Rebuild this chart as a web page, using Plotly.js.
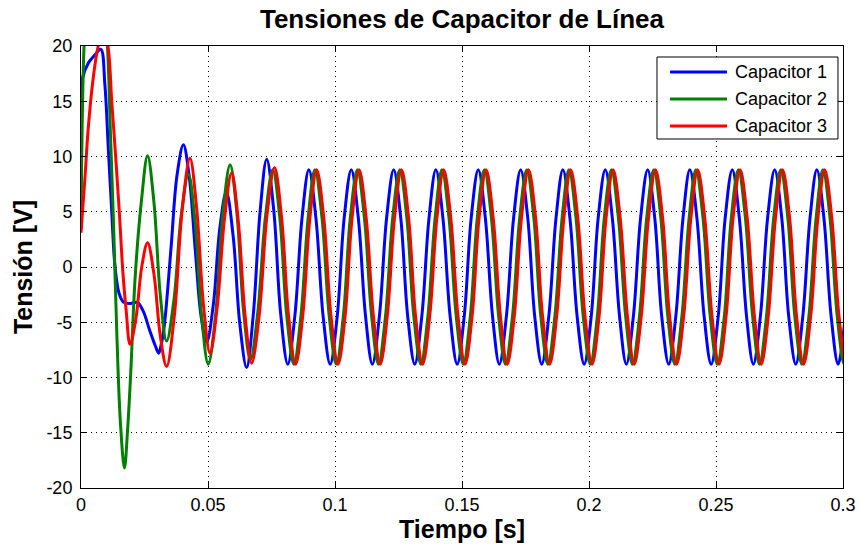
<!DOCTYPE html>
<html><head><meta charset="utf-8">
<script src="https://cdn.plot.ly/plotly-3.0.1.min.js"></script>
<style>html,body{margin:0;padding:0;background:#fff}</style>
</head><body><div id="chart" style="width:860px;height:550px"></div>
<script>
const chartTitle = 'Tensiones de Capacitor de Línea';
const xTitle = 'Tiempo [s]';
const yTitle = 'Tensión [V]';
const seriesNames = ['Capacitor 1', 'Capacitor 2', 'Capacitor 3'];
const seriesColors = ['#0000ff', '#008000', '#ff0000'];
const xTickVals = [0, 0.05, 0.1, 0.15, 0.2, 0.25, 0.3];
const xTickText = ['0', '0.05', '0.1', '0.15', '0.2', '0.25', '0.3'];
const yTickVals = [-20, -15, -10, -5, 0, 5, 10, 15, 20];
const yTickText = ['-20', '-15', '-10', '-5', '0', '5', '10', '15', '20'];

// Transient part
const tBlueStart = [0, 0.0005, 0.0030, 0.0055, 0.0078, 0.0094, 0.0108, 0.0121, 0.0134, 0.0150, 0.0168, 0.0195, 0.0222, 0.0245, 0.0270, 0.0292, 0.0306, 0.0316, 0.0328, 0.0354, 0.0378, 0.0403, 0.0426, 0.0450, 0.0473, 0.0495, 0.0521, 0.0546, 0.0572, 0.0599, 0.0625, 0.0652, 0.0678, 0.0705, 0.0731, 0.0759, 0.0786, 0.0814];
const vBlueStart = [10.5, 17, 18.5, 19.2, 19.7, 16.5, 10.5, 5, 0, -2.4, -3.2, -3.3, -3.2, -4.0, -5.7, -7.1, -7.8, -7.0, -5.3, 1.6, 8.3, 11.06, 8.2, 1.5, -4.5, -6.8, -3.4, 3.4, 6.8, 2.8, -5.1, -9.1, -4.4, 5.0, 9.76, 5.1, -4.2, -8.8];

const tGreenStart = [0, 0.0012, 0.0030, 0.0060, 0.0085, 0.0104, 0.0116, 0.0128, 0.0141, 0.0155, 0.0171, 0.0184, 0.0197, 0.0213, 0.0238, 0.0262, 0.0287, 0.0312, 0.0337, 0.0366, 0.0394, 0.0423, 0.0449, 0.0475, 0.0501, 0.0530, 0.0558, 0.0587, 0.0614, 0.0640, 0.0667, 0.0696, 0.0726, 0.0755, 0.0783, 0.0810, 0.0838];
const vGreenStart = [3.5, 20, 26.5, 28, 25, 20, 12, 4, -6, -14, -18.2, -14.5, -9, -1, 6, 10.06, 5.9, -2.5, -6.7, -2.95, 4.55, 8.4, 4.1, -4.5, -8.8, -4.3, 4.7, 9.25, 4.8, -4.0, -8.4, -4.1, 4.5, 8.8, 4.4, -4.4, -8.8];

const tRedStart = [0, 0.0016, 0.0028, 0.0047, 0.0066, 0.0088, 0.0106, 0.0121, 0.0138, 0.0152, 0.0165, 0.0178, 0.0193, 0.0216, 0.0239, 0.0262, 0.0287, 0.0312, 0.0337, 0.0368, 0.0398, 0.0429, 0.0455, 0.0482, 0.0508, 0.0536, 0.0565, 0.0593, 0.0619, 0.0646, 0.0672, 0.0702, 0.0732, 0.0762, 0.0790, 0.0817, 0.0845];
const vRedStart = [3.1, 8.2, 12.4, 16.9, 19.8, 21.5, 20, 15, 9.5, 4.5, -0.5, -4, -7.0, -4.7, 0, 2.2, -0.6, -6.2, -9.0, -4.3, 5.1, 9.85, 5.4, -3.4, -7.8, -3.7, 4.4, 8.5, 4.2, -4.4, -8.7, -4.25, 4.65, 9.0, 4.4, -4.4, -8.8];

// Steady-state part
const tBlueSteady = [
 0.0842, 0.0870, 0.0897, 0.0925, 0.0953, 0.0981,
 0.1009, 0.1036, 0.1064, 0.1092, 0.1120, 0.1147,
 0.1175, 0.1203, 0.1231, 0.1259, 0.1286, 0.1314,
 0.1342, 0.1370, 0.1397, 0.1425, 0.1453, 0.1481,
 0.1509, 0.1536, 0.1564, 0.1592, 0.1620, 0.1647,
 0.1675, 0.1703, 0.1731, 0.1759, 0.1786, 0.1814,
 0.1842, 0.1870, 0.1897, 0.1925, 0.1953, 0.1981,
 0.2009, 0.2036, 0.2064, 0.2092, 0.2120, 0.2147,
 0.2175, 0.2203, 0.2231, 0.2259, 0.2286, 0.2314,
 0.2342, 0.2370, 0.2397, 0.2425, 0.2453, 0.2481,
 0.2509, 0.2536, 0.2564, 0.2592, 0.2620, 0.2647,
 0.2675, 0.2703, 0.2731, 0.2759, 0.2786, 0.2814,
 0.2842, 0.2870, 0.2897, 0.2925, 0.2953, 0.2981,
 0.3009];
const tGreenSteady = [
 0.0866, 0.0894, 0.0921, 0.0949, 0.0977, 0.1005,
 0.1033, 0.1060, 0.1088, 0.1116, 0.1144, 0.1171,
 0.1199, 0.1227, 0.1255, 0.1283, 0.1310, 0.1338,
 0.1366, 0.1394, 0.1421, 0.1449, 0.1477, 0.1505,
 0.1533, 0.1560, 0.1588, 0.1616, 0.1644, 0.1671,
 0.1699, 0.1727, 0.1755, 0.1783, 0.1810, 0.1838,
 0.1866, 0.1894, 0.1921, 0.1949, 0.1977, 0.2005,
 0.2033, 0.2060, 0.2088, 0.2116, 0.2144, 0.2171,
 0.2199, 0.2227, 0.2255, 0.2283, 0.2310, 0.2338,
 0.2366, 0.2394, 0.2421, 0.2449, 0.2477, 0.2505,
 0.2533, 0.2560, 0.2588, 0.2616, 0.2644, 0.2671,
 0.2699, 0.2727, 0.2755, 0.2783, 0.2810, 0.2838,
 0.2866, 0.2894, 0.2921, 0.2949, 0.2977, 0.3005,
 0.3033];
const tRedSteady = [
 0.0873, 0.0901, 0.0928, 0.0956, 0.0984, 0.1012,
 0.1040, 0.1067, 0.1095, 0.1123, 0.1151, 0.1178,
 0.1206, 0.1234, 0.1262, 0.1290, 0.1317, 0.1345,
 0.1373, 0.1401, 0.1428, 0.1456, 0.1484, 0.1512,
 0.1540, 0.1567, 0.1595, 0.1623, 0.1651, 0.1678,
 0.1706, 0.1734, 0.1762, 0.1790, 0.1817, 0.1845,
 0.1873, 0.1901, 0.1928, 0.1956, 0.1984, 0.2012,
 0.2040, 0.2067, 0.2095, 0.2123, 0.2151, 0.2178,
 0.2206, 0.2234, 0.2262, 0.2290, 0.2317, 0.2345,
 0.2373, 0.2401, 0.2428, 0.2456, 0.2484, 0.2512,
 0.2540, 0.2567, 0.2595, 0.2623, 0.2651, 0.2678,
 0.2706, 0.2734, 0.2762, 0.2790, 0.2817, 0.2845,
 0.2873, 0.2901, 0.2928, 0.2956, 0.2984, 0.3012,
 0.3040];
const vSteady = [
 -4.4, 4.4, 8.8, 4.4, -4.4, -8.8,
 -4.4, 4.4, 8.8, 4.4, -4.4, -8.8,
 -4.4, 4.4, 8.8, 4.4, -4.4, -8.8,
 -4.4, 4.4, 8.8, 4.4, -4.4, -8.8,
 -4.4, 4.4, 8.8, 4.4, -4.4, -8.8,
 -4.4, 4.4, 8.8, 4.4, -4.4, -8.8,
 -4.4, 4.4, 8.8, 4.4, -4.4, -8.8,
 -4.4, 4.4, 8.8, 4.4, -4.4, -8.8,
 -4.4, 4.4, 8.8, 4.4, -4.4, -8.8,
 -4.4, 4.4, 8.8, 4.4, -4.4, -8.8,
 -4.4, 4.4, 8.8, 4.4, -4.4, -8.8,
 -4.4, 4.4, 8.8, 4.4, -4.4, -8.8,
 -4.4, 4.4, 8.8, 4.4, -4.4, -8.8,
 -4.4];

const FONT = 'Liberation Sans, Arial, Helvetica, sans-serif';
const xs = [tBlueStart.concat(tBlueSteady), tGreenStart.concat(tGreenSteady), tRedStart.concat(tRedSteady)];
const ys = [vBlueStart.concat(vSteady), vGreenStart.concat(vSteady), vRedStart.concat(vSteady)];

const traces = seriesNames.map((name, i) => ({
  type: 'scatter', mode: 'lines', name: name,
  x: xs[i], y: ys[i], showlegend: false,
  line: {color: seriesColors[i], width: 3, shape: 'spline', smoothing: 1}
}));

// Legend drawn as a boxed key in paper coordinates
const legX0 = 0.7559, legX1 = 0.9934, legY0 = 0.7896, legY1 = 0.9751;
const legLineX0 = 0.7730, legLineX1 = 0.8478, legTextX = 0.8556;
const legRowY = [0.9412, 0.8801, 0.8190];

const shapes = [{type: 'rect', xref: 'paper', yref: 'paper', x0: legX0, x1: legX1, y0: legY0, y1: legY1,
                 line: {color: '#000', width: 1}, fillcolor: '#fff', layer: 'above'}];
const annotations = [];
seriesNames.forEach((name, i) => {
  shapes.push({type: 'line', xref: 'paper', yref: 'paper', x0: legLineX0, x1: legLineX1,
               y0: legRowY[i], y1: legRowY[i], line: {color: seriesColors[i], width: 3}, layer: 'above'});
  annotations.push({xref: 'paper', yref: 'paper', x: legTextX, y: legRowY[i], xanchor: 'left', yanchor: 'middle',
                    text: name, showarrow: false, font: {family: FONT, size: 18, color: '#000'}});
});

const axisCommon = {
  showline: true, linecolor: '#000', linewidth: 1, mirror: 'ticks',
  ticks: 'inside', ticklen: 6, tickcolor: '#000', tickwidth: 1,
  showgrid: true, gridcolor: '#000', gridwidth: 1, griddash: '1px,4px',
  zeroline: false, tickfont: {family: FONT, size: 18, color: '#000'},
  tickmode: 'array', fixedrange: true
};

const layout = {
  width: 860, height: 550,
  margin: {l: 81, r: 17, t: 46, b: 62},
  paper_bgcolor: '#fff', plot_bgcolor: '#fff',
  showlegend: false,
  title: {text: chartTitle, font: {family: FONT, size: 26, color: '#000', weight: 'bold'},
          x: 0.5, xref: 'paper', y: 0.965, yref: 'container', yanchor: 'middle'},
  xaxis: Object.assign({}, axisCommon, {
    range: [0, 0.3], tickvals: xTickVals, ticktext: xTickText,
    title: {text: xTitle, font: {family: FONT, size: 25, color: '#000', weight: 'bold'}, standoff: 0},
    ticklabelstandoff: 0
  }),
  yaxis: Object.assign({}, axisCommon, {
    range: [-20, 20], tickvals: yTickVals, ticktext: yTickText,
    title: {text: yTitle, font: {family: FONT, size: 25, color: '#000', weight: 'bold'}, standoff: 6},
    ticklabelstandoff: 4
  }),
  shapes: shapes,
  annotations: annotations
};

Plotly.newPlot('chart', traces, layout, {displayModeBar: false, staticPlot: true});
</script>
</body></html>
